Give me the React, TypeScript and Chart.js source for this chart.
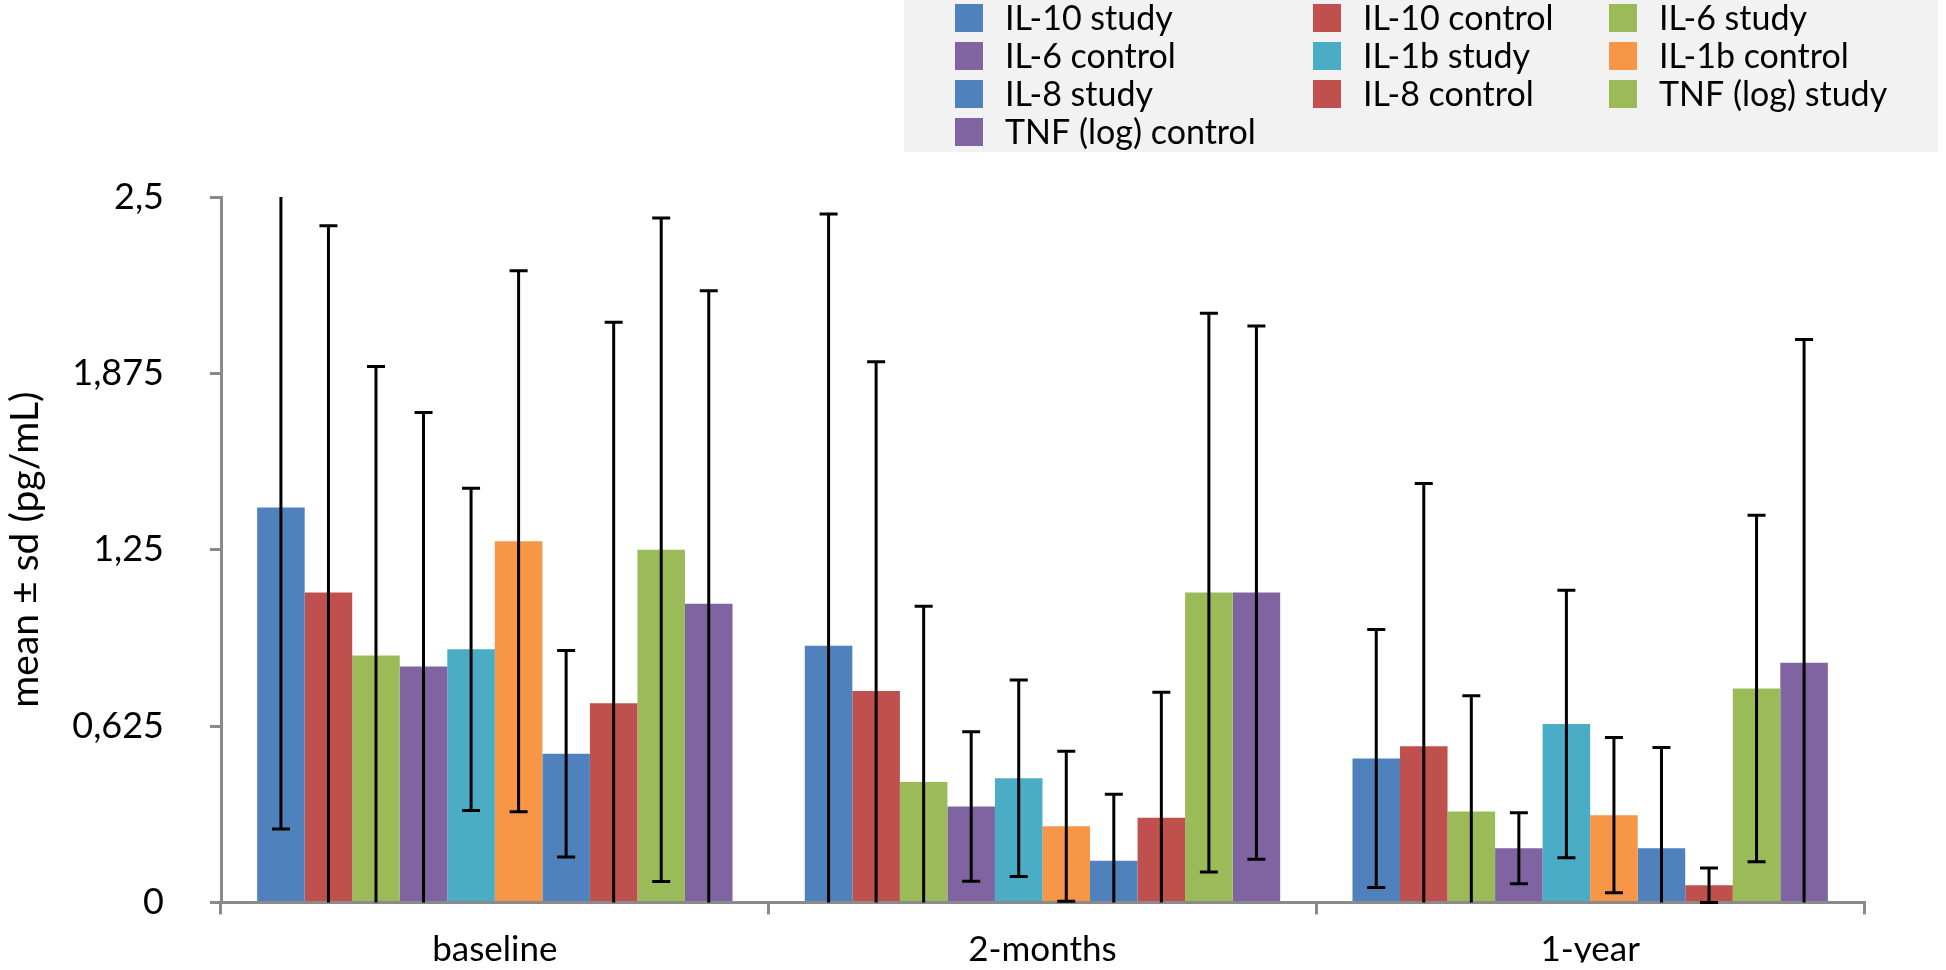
import React, { useEffect, useRef } from "react";
import { Chart, registerables } from "chart.js";

Chart.register(...registerables);

const categories = ["baseline", "2-months", "1-year"];

const seriesLabels = [
  "IL-10 study",
  "IL-10 control",
  "IL-6 study",
  "IL-6 control",
  "IL-1b study",
  "IL-1b control",
  "IL-8 study",
  "IL-8 control",
  "TNF (log) study",
  "TNF (log) control",
];

const seriesColors = [
  "#4F81BD", "#C0504D", "#9BBB59", "#8064A2", "#4BACC6",
  "#F79646", "#4F81BD", "#C0504D", "#9BBB59", "#8064A2",
];

// means per series (baseline, 2-months, 1-year)
const il10StudyMean = [1.4, 0.91, 0.51];
const il10ControlMean = [1.098, 0.749, 0.553];
const il6StudyMean = [0.875, 0.427, 0.322];
const il6ControlMean = [0.836, 0.34, 0.192];
const il1bStudyMean = [0.897, 0.44, 0.632];
const il1bControlMean = [1.28, 0.27, 0.309];
const il8StudyMean = [0.527, 0.148, 0.192];
const il8ControlMean = [0.706, 0.3, 0.061];
const tnfStudyMean = [1.25, 1.098, 0.758];
const tnfControlMean = [1.058, 1.098, 0.849];

// standard deviations per series
const il10StudySd = [1.14, 1.53, 0.457];
const il10ControlSd = [1.3, 1.167, 0.932];
const il6StudySd = [1.024, 0.623, 0.41];
const il6ControlSd = [0.9, 0.265, 0.126];
const il1bStudySd = [0.571, 0.348, 0.474];
const il1bControlSd = [0.959, 0.266, 0.275];
const il8StudySd = [0.366, 0.235, 0.357];
const il8ControlSd = [1.35, 0.445, 0.061];
const tnfStudySd = [1.176, 0.99, 0.614];
const tnfControlSd = [1.11, 0.945, 1.146];

const yTicks = [0, 0.625, 1.25, 1.875, 2.5];
const yMin = 0;
const yMax = 2.5;

const means = [
  il10StudyMean, il10ControlMean, il6StudyMean, il6ControlMean, il1bStudyMean,
  il1bControlMean, il8StudyMean, il8ControlMean, tnfStudyMean, tnfControlMean,
];
const sds = [
  il10StudySd, il10ControlSd, il6StudySd, il6ControlSd, il1bStudySd,
  il1bControlSd, il8StudySd, il8ControlSd, tnfStudySd, tnfControlSd,
];

const AXIS_COLOR = "#8a8a8a";
const FONT = "Lato, 'Open Sans', sans-serif";

const errorBarPlugin = {
  id: "errorBars",
  afterDatasetsDraw(chart: any) {
    const ctx = chart.ctx;
    const y = chart.scales.y;
    ctx.save();
    ctx.strokeStyle = "#000";
    ctx.lineWidth = 3;
    chart.data.datasets.forEach((ds: any, di: number) => {
      const meta = chart.getDatasetMeta(di);
      meta.data.forEach((bar: any, i: number) => {
        const m = ds.data[i];
        const s = ds.sdValues[i];
        const hi = m + s;
        const lo = m - s;
        const yHi = y.getPixelForValue(Math.min(hi, yMax));
        const yLo = y.getPixelForValue(Math.max(lo, yMin));
        const x = bar.x;
        const cap = 9;
        ctx.beginPath();
        ctx.moveTo(x, yHi);
        ctx.lineTo(x, yLo);
        if (hi <= yMax) { ctx.moveTo(x - cap, yHi); ctx.lineTo(x + cap, yHi); }
        if (lo >= yMin - 1e-9) { ctx.moveTo(x - cap, yLo); ctx.lineTo(x + cap, yLo); }
        ctx.stroke();
      });
    });
    ctx.restore();
  },
};

const legendColsX = [955, 1313, 1609];
const legendRowsY = [4, 42, 80, 118];

const boxLegendPlugin = {
  id: "boxLegend",
  afterDraw(chart: any) {
    const ctx = chart.ctx;
    ctx.save();
    ctx.fillStyle = "#f2f2f2";
    ctx.fillRect(904, 0, 1034, 152);
    ctx.font = `34px ${FONT}`;
    ctx.textBaseline = "middle";
    ctx.textAlign = "left";
    chart.data.datasets.forEach((ds: any, i: number) => {
      const x = legendColsX[i % 3];
      const yy = legendRowsY[Math.floor(i / 3)];
      ctx.fillStyle = ds.backgroundColor;
      ctx.fillRect(x, yy, 28, 28);
      ctx.fillStyle = "#000";
      ctx.fillText(ds.label, x + 50, yy + 15);
    });
    ctx.restore();
  },
};

function App() {
  const ref = useRef<HTMLCanvasElement | null>(null);

  useEffect(() => {
    if (!ref.current) return;
    const chart = new Chart(ref.current, {
      type: "bar",
      data: {
        labels: categories,
        datasets: seriesLabels.map((label, i) => ({
          label,
          data: means[i],
          sdValues: sds[i],
          backgroundColor: seriesColors[i],
          borderWidth: 0,
          barPercentage: 1.0,
          categoryPercentage: 0.868,
        })) as any,
      },
      options: {
        responsive: false,
        animation: false,
        layout: { padding: { top: 197, right: 82, bottom: 0, left: 0 } },
        plugins: { legend: { display: false }, tooltip: { enabled: false } },
        scales: {
          x: {
            grid: { display: true, offset: true, drawOnChartArea: false, drawTicks: true, tickLength: 12, color: AXIS_COLOR, lineWidth: 3 },
            border: { display: true, color: AXIS_COLOR, width: 3 },
            ticks: { color: "#000", font: { family: FONT, size: 35 }, padding: 14, maxRotation: 0 },
            afterFit: (scale: any) => { scale.height = 60; },
          },
          y: {
            min: yMin,
            max: yMax,
            afterBuildTicks: (scale: any) => { scale.ticks = yTicks.map((v) => ({ value: v })); },
            grid: { display: true, drawOnChartArea: false, drawTicks: true, tickLength: 11, color: AXIS_COLOR, lineWidth: 3 },
            border: { display: true, color: AXIS_COLOR, width: 3 },
            ticks: { color: "#000", font: { family: FONT, size: 36 }, padding: 46, callback: (v: any) => String(v).replace(".", ",") },
            title: { display: true, text: "mean ± sd (pg/mL)", color: "#000", font: { family: FONT, size: 39 }, padding: { top: 2, bottom: 0 } },
            afterFit: (scale: any) => { scale.width = 221; },
          },
        },
      },
      plugins: [errorBarPlugin, boxLegendPlugin],
    } as any);
    return () => chart.destroy();
  }, []);

  return (
    <div style={{ position: "fixed", left: 0, top: 0, width: 1946, height: 970, background: "#fff" }}>
      <canvas ref={ref} width={1946} height={970} style={{ display: "block", width: 1946, height: 970 }} />
    </div>
  );
}

export default App;
